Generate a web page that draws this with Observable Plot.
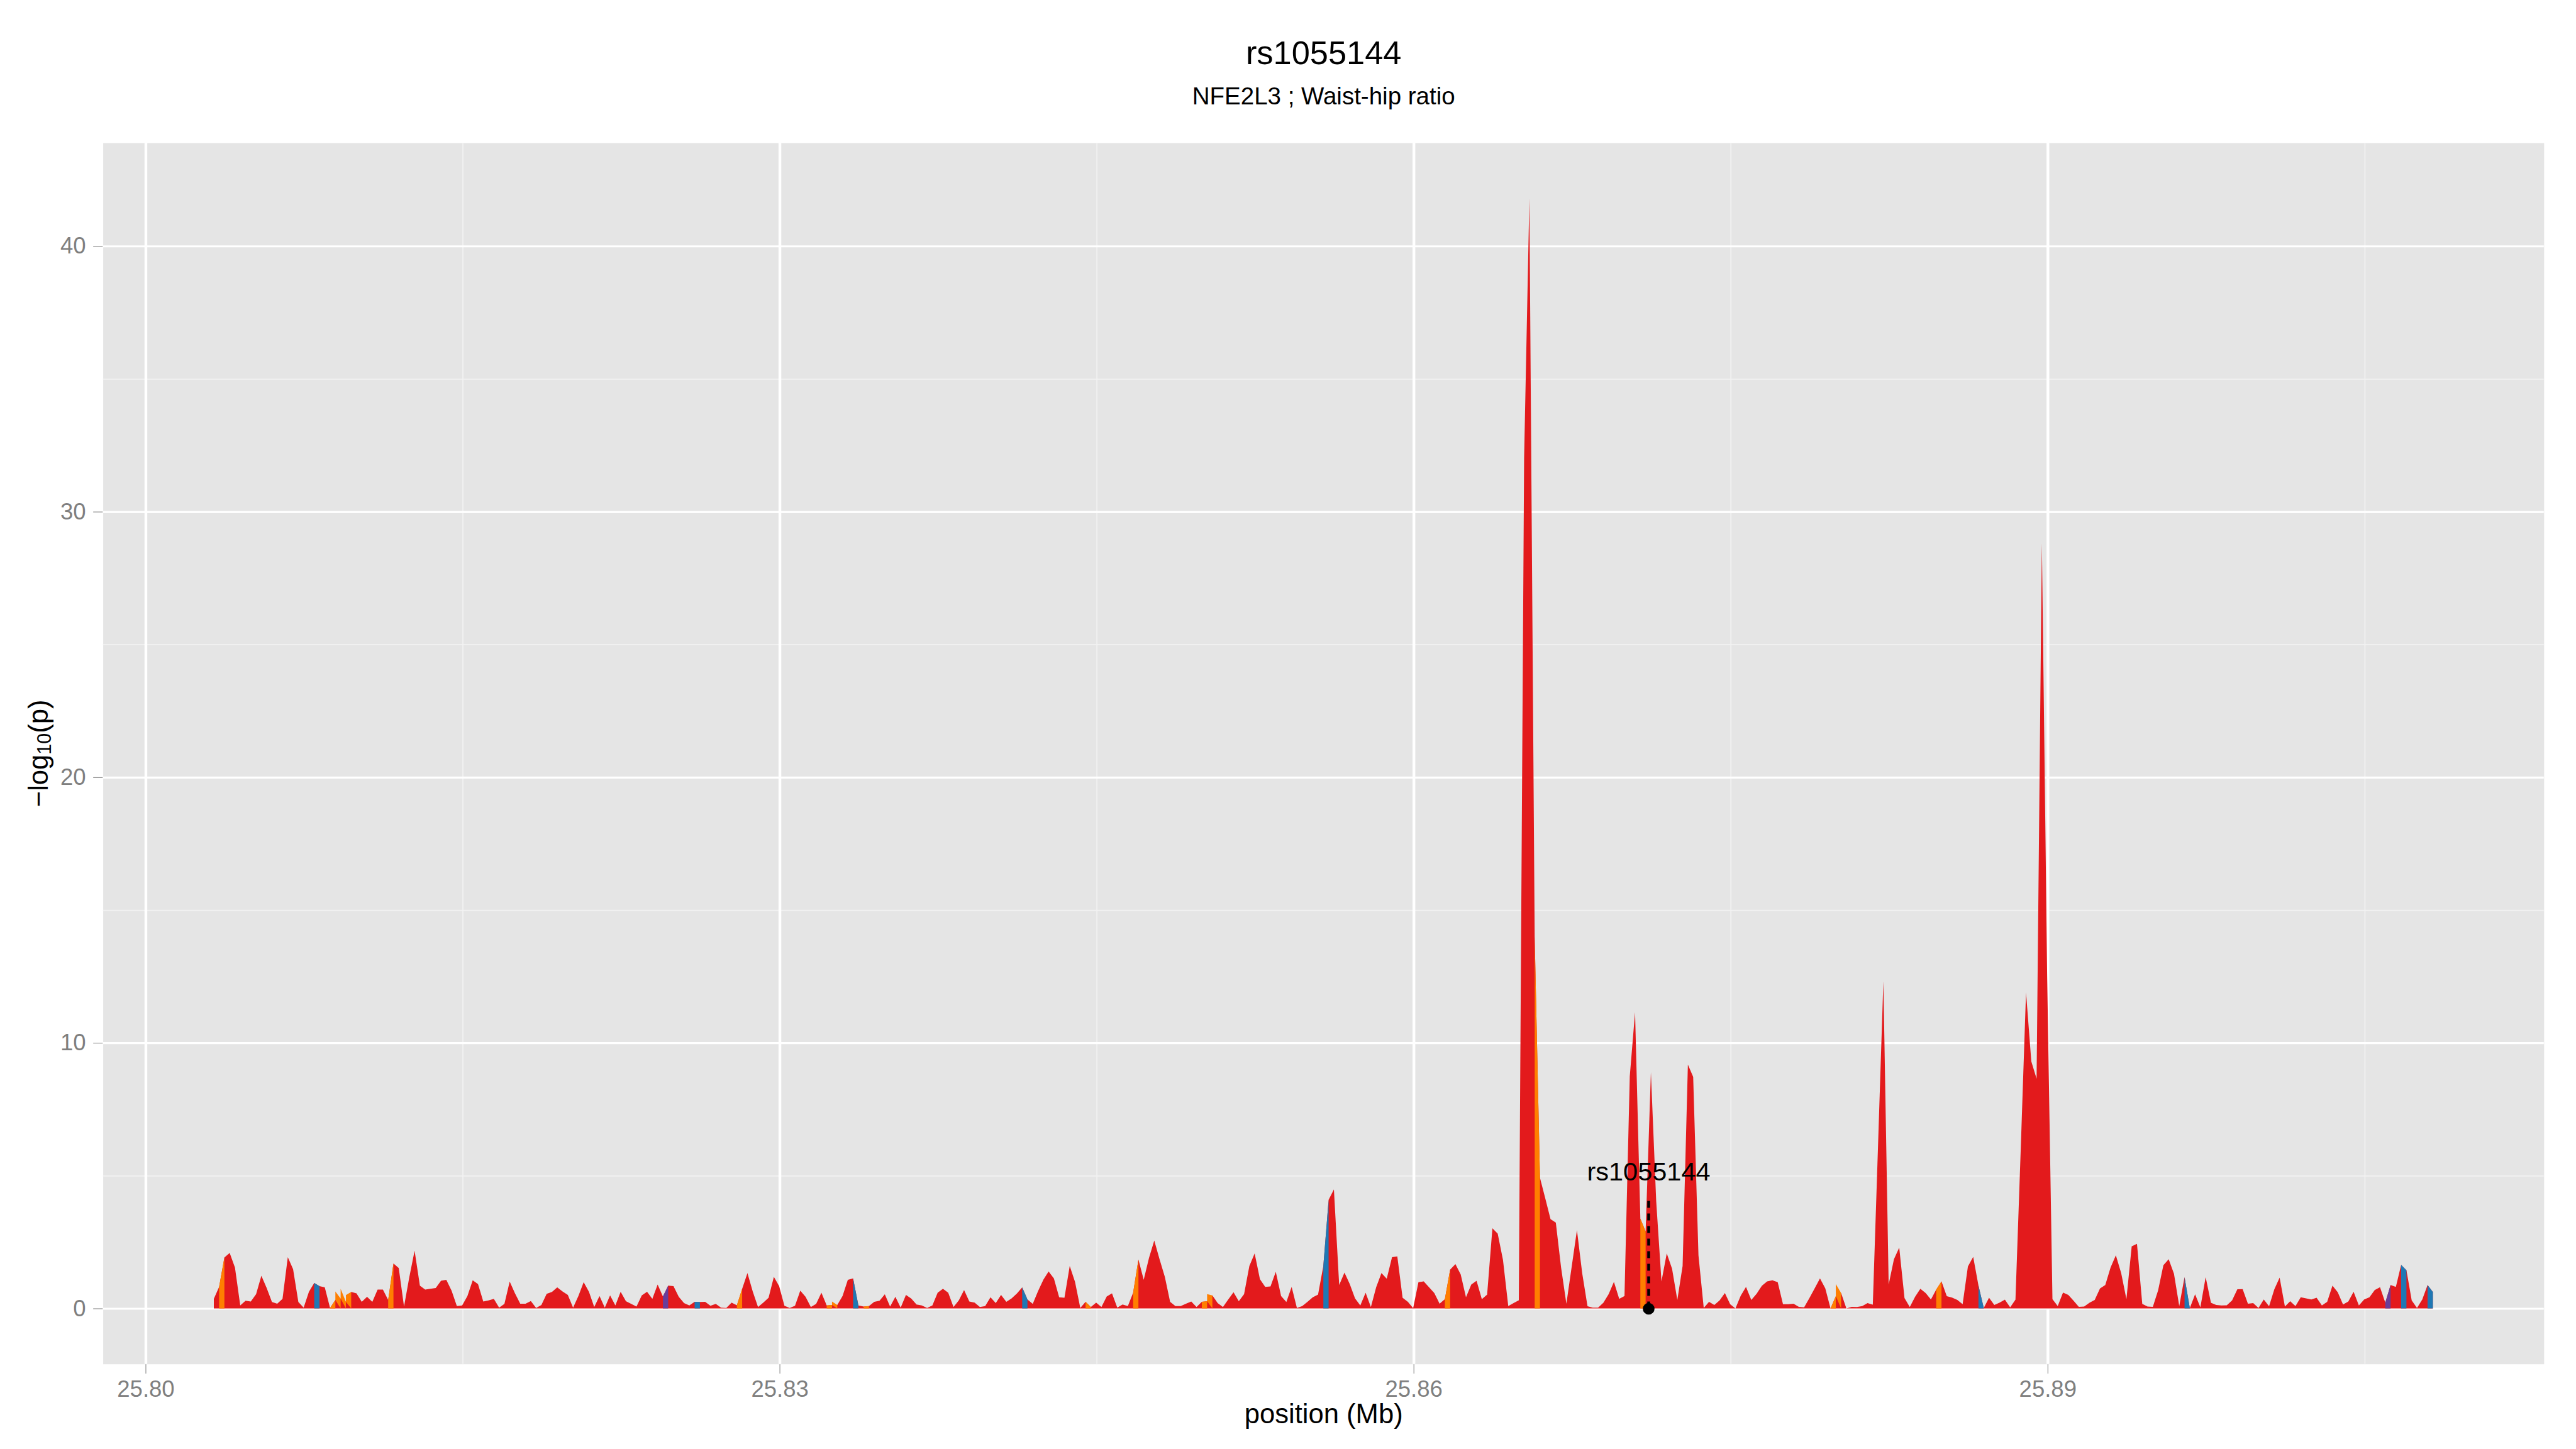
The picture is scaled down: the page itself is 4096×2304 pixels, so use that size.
<!DOCTYPE html>
<html><head><meta charset="utf-8">
<script src="https://cdn.jsdelivr.net/npm/d3@7"></script>
<script src="https://cdn.jsdelivr.net/npm/@observablehq/plot@0.6"></script>
<style>
html,body{margin:0;padding:0;background:#fff;}
#chart{width:4096px;height:2304px;overflow:hidden;}
</style></head><body><div id="chart"></div>
<script>
// ---------------- data ----------------
const startMb = 25.80323;   // first SNP position (Mb)
const stepMb = 0.00025;     // spacing between consecutive SNPs (Mb)
const logP = [
0.36,0.81,1.92,2.09,1.54,0.11,0.29,0.26,0.54,1.23,
0.77,0.24,0.18,0.36,1.93,1.48,0.24,0.03,0.63,0.96,
0.84,0.79,0.02,0.32,0.37,0.25,0.62,0.57,0.25,0.44,
0.25,0.71,0.71,0.32,1.69,1.52,0.07,1.18,2.17,0.86,
0.71,0.74,0.77,1.04,1.08,0.67,0.09,0.11,0.47,1.06,
0.92,0.26,0.30,0.36,0.03,0.17,1.01,0.57,0.18,0.18,
0.28,0.02,0.13,0.55,0.62,0.79,0.64,0.51,0.03,0.47,
0.99,0.63,0.05,0.47,0.03,0.49,0.11,0.63,0.27,0.17,
0.07,0.49,0.63,0.36,0.90,0.45,0.86,0.84,0.44,0.20,
0.11,0.25,0.24,0.25,0.10,0.17,0.03,0.02,0.22,0.12,
0.74,1.33,0.64,0.05,0.22,0.40,1.19,0.84,0.10,0.02,
0.10,0.67,0.44,0.05,0.17,0.59,0.11,0.13,0.13,0.47,
1.08,1.13,0.11,0.07,0.09,0.25,0.29,0.53,0.07,0.44,
0.03,0.51,0.37,0.15,0.11,0.02,0.11,0.59,0.74,0.59,
0.05,0.30,0.69,0.26,0.22,0.05,0.09,0.42,0.20,0.51,
0.25,0.38,0.56,0.79,0.34,0.17,0.65,1.08,1.39,1.13,
0.42,0.40,1.60,1.00,0.02,0.25,0.05,0.22,0.05,0.45,
0.57,0.03,0.15,0.09,0.59,1.84,1.08,1.90,2.56,1.85,
1.19,0.25,0.09,0.09,0.18,0.26,0.05,0.25,0.27,0.49,
0.20,0.05,0.34,0.61,0.27,0.54,1.60,2.07,1.10,0.81,
0.83,1.38,0.47,0.24,0.81,0.02,0.09,0.25,0.42,0.52,
1.60,4.09,4.48,0.88,1.35,0.92,0.38,0.11,0.59,0.05,
0.80,1.33,1.12,1.93,1.96,0.40,0.25,0.01,0.99,1.02,
0.80,0.58,0.18,0.35,1.46,1.67,1.28,0.42,0.90,1.04,
0.35,0.52,3.02,2.82,1.83,0.09,0.20,0.31,32.0,41.8,
14.0,4.92,4.15,3.36,3.23,1.54,0.18,1.56,2.95,1.32,
0.08,0.03,0.03,0.21,0.54,1.00,0.36,0.47,8.74,11.15,
3.38,2.90,8.89,4.04,1.02,2.07,1.50,0.32,1.60,9.18,
8.72,2.00,0.02,0.25,0.13,0.30,0.58,0.16,0.00,0.48,
0.81,0.32,0.55,0.85,1.02,1.06,0.99,0.16,0.16,0.18,
0.06,0.04,0.39,0.76,1.13,0.76,0.00,0.46,0.58,0.00,
0.06,0.05,0.09,0.20,0.14,6.2,12.32,0.90,1.85,2.29,
0.39,0.05,0.44,0.74,0.58,0.34,0.71,1.02,0.46,0.41,
0.32,0.16,1.58,1.94,0.86,0.02,0.40,0.13,0.22,0.33,
0.04,0.33,6.0,11.9,9.3,8.65,28.8,12.5,0.35,0.09,
0.60,0.51,0.29,0.06,0.07,0.21,0.32,0.75,0.88,1.54,
2.00,1.34,0.35,2.34,2.43,0.17,0.07,0.06,0.68,1.63,
1.85,1.31,0.09,1.18,0.01,0.53,0.04,1.18,0.21,0.13,
0.11,0.12,0.30,0.72,0.73,0.18,0.20,0.02,0.34,0.08,
0.72,1.16,0.07,0.27,0.09,0.42,0.38,0.34,0.40,0.11,
0.25,0.86,0.61,0.15,0.26,0.63,0.11,0.34,0.42,0.69,
0.80,0.22,0.88,0.81,1.64,1.44,0.30,0.02,0.34,0.88,
0.62
];
// segments (start index i -> i+1) whose class is not the default red one
const orangeSegments = [1,22,23,24,25,33,99,116,117,123,165,174,187,188,233,250,270,306,307,326];
const blueSegments = [19,91,121,153,210,334,373,414,419];
const purpleSegments = [85,411];

const xMajorTicks = [25.80, 25.83, 25.86, 25.89];
const xMinorTicks = [25.815, 25.845, 25.875, 25.905];
const yMajorTicks = [0, 10, 20, 30, 40];
const yMinorTicks = [5, 15, 25, 35];

const leadSnp = {name: "rs1055144", mb: 25.87111, stemTop: 4.15, labelBaseline: 4.84};
const titleText = "rs1055144";
const subtitleText = "NFE2L3 ; Waist-hip ratio";
const xTitle = "position (Mb)";

// ---------------- styles ----------------
const RED = "#E31A1C", ORANGE = "#FF7F00", BLUE = "#1F78B4", PURPLE = "#6A3D9A";
const FONT = "'Liberation Sans', Arial, Helvetica, sans-serif";
const S = 4096 / 4800;
const W = 4096, H = 2304;
const mL = 191.7 * S, mR = W - 4740 * S, mT = 266 * S, mB = H - 2541.5 * S;

const points = logP.map((v, i) => ({x: startMb + i * stepMb, y: v}));
const segRows = (idx) => idx.flatMap(i => [
  {x: points[i].x, y: points[i].y, seg: i},
  {x: points[i + 1].x, y: points[i + 1].y, seg: i}
]);

const xExt = d3.extent(points, d => d.x);
const padX = (xExt[1] - xExt[0]) * 0.05;
const yMax = d3.max(logP);
const padY = yMax * 0.05;

const labelFont = 41.5, titleFont = 52.4, subFont = 38.5, axisTitleFont = 43.6;

const plot = Plot.plot({
  width: W, height: H,
  marginLeft: mL, marginRight: mR, marginTop: mT, marginBottom: mB,
  style: {background: "#ffffff", color: "#7F7F7F", fontFamily: FONT, fontSize: "36.5px", overflow: "visible"},
  x: {domain: [xExt[0] - padX, xExt[1] + padX], ticks: xMajorTicks, tickFormat: d3.format(".2f"),
      tickSize: 15.4, tickPadding: 10.5, label: null},
  y: {domain: [-padY, yMax + padY], ticks: yMajorTicks, tickFormat: d3.format("d"),
      tickSize: 15.4, tickPadding: 12, label: null},
  marks: [
    Plot.frame({fill: "#E5E5E5", stroke: null}),
    Plot.ruleY(yMinorTicks, {stroke: "#F2F2F2", strokeWidth: 1.7}),
    Plot.ruleX(xMinorTicks, {stroke: "#F2F2F2", strokeWidth: 1.7}),
    Plot.ruleY(yMajorTicks, {stroke: "#FFFFFF", strokeWidth: 3.2}),
    Plot.ruleX(xMajorTicks, {stroke: "#FFFFFF", strokeWidth: 4.4}),
    Plot.areaY(points, {x: "x", y: "y", fill: RED}),
    Plot.areaY(segRows(orangeSegments), {x: "x", y: "y", z: "seg", fill: ORANGE}),
    Plot.areaY(segRows(blueSegments), {x: "x", y: "y", z: "seg", fill: BLUE}),
    Plot.areaY(segRows(purpleSegments), {x: "x", y: "y", z: "seg", fill: PURPLE}),
    Plot.ruleX([leadSnp], {x: "mb", y1: 0, y2: "stemTop", stroke: "#000", strokeWidth: 4.5, strokeDasharray: "11,9"}),
    Plot.dot([leadSnp], {x: "mb", y: () => 0, r: 9.3, fill: "#000", stroke: null}),
    Plot.text([leadSnp], {x: "mb", y: "labelBaseline", text: "name", fill: "#000", fontSize: labelFont,
      lineAnchor: "middle", dy: -0.32 * labelFont}),
    Plot.text([titleText], {frameAnchor: "top", lineAnchor: "middle", text: d => d, fill: "#000",
      fontSize: titleFont, dy: 119 * S - mT - 0.32 * titleFont}),
    Plot.text([subtitleText], {frameAnchor: "top", lineAnchor: "middle", text: d => d, fill: "#000",
      fontSize: subFont, dy: 194.3 * S - mT - 0.32 * subFont}),
    Plot.text([xTitle], {frameAnchor: "bottom", lineAnchor: "middle", text: d => d, fill: "#000",
      fontSize: axisTitleFont, dy: 2651 * S - (H - mB) - 0.32 * axisTitleFont})
  ]
});

// y-axis title with a subscript, appended as real text
const svg = d3.select(plot);
const yCenter = (mT + (H - mB)) / 2;
const yBase = 89 * S;
const yt = svg.append("text")
  .attr("transform", `translate(${yBase},${yCenter}) rotate(-90)`)
  .attr("text-anchor", "middle")
  .attr("fill", "#000")
  .style("font-family", FONT)
  .style("font-size", axisTitleFont + "px");
yt.append("tspan").text("\u2212log");
yt.append("tspan").attr("font-size", (axisTitleFont * 0.7) + "px").attr("dy", "5").text("10");
yt.append("tspan").attr("dy", "-5").text("(p)");

document.getElementById("chart").appendChild(plot);
</script>
</body></html>
